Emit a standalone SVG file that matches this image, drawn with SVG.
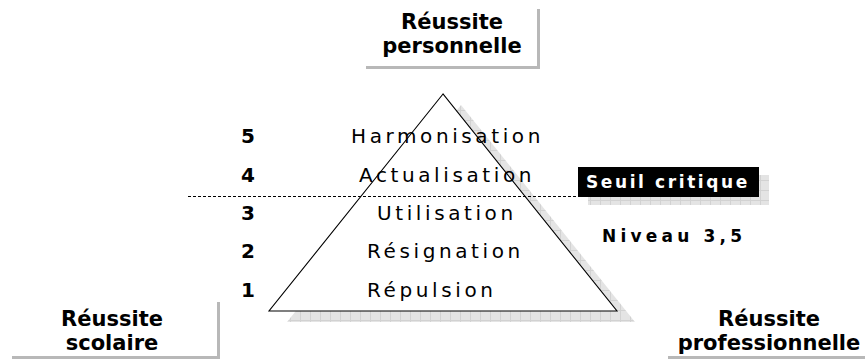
<svg xmlns="http://www.w3.org/2000/svg" width="865" height="360" viewBox="0 0 865 360">
  <style>
    .lbl { font-family: "DejaVu Sans", Verdana, sans-serif; font-weight: bold; font-size: 21px; fill: #000; text-anchor: middle; }
    .num { font-family: "DejaVu Sans", Verdana, sans-serif; font-weight: bold; font-size: 20px; fill: #000; }
    .lvl { font-family: "DejaVu Sans", Verdana, sans-serif; font-size: 20px; fill: #000; letter-spacing: 3.6px; }
    .sh { fill: #b8b8b8; }
    .seuil { font-family: "DejaVu Sans", Verdana, sans-serif; font-weight: bold; font-size: 17px; fill: #fff; letter-spacing: 2.6px; }
    .niv { font-family: "DejaVu Sans", Verdana, sans-serif; font-weight: bold; font-size: 17px; fill: #000; letter-spacing: 4.2px; }
  </style>
  <defs>
    <pattern id="grid" width="10" height="10" patternUnits="userSpaceOnUse">
      <rect width="10" height="10" fill="#e4e4e4"/>
      <path d="M0 0.5H10M0.5 0V10" stroke="#d2d2d2" stroke-width="1" fill="none"/>
    </pattern>
  </defs>
  <rect width="865" height="360" fill="#fff"/>

  <g id="apex-label">
    <rect class="sh" x="537" y="9" width="3" height="60"/>
    <rect class="sh" x="366" y="66" width="174" height="3"/>
    <text class="lbl" x="452" y="29">Réussite</text>
    <text class="lbl" x="452" y="53">personnelle</text>
  </g>

  <g id="left-label">
    <rect class="sh" x="217" y="302" width="3" height="57"/>
    <rect class="sh" x="12" y="356" width="208" height="3"/>
    <text class="lbl" x="112" y="326">Réussite</text>
    <text class="lbl" x="112" y="350">scolaire</text>
  </g>

  <g id="right-label">
    <rect class="sh" x="668" y="356" width="197" height="3"/>
    <text class="lbl" x="769" y="326">Réussite</text>
    <text class="lbl" x="769" y="350">professionnelle</text>
  </g>

  <g id="pyramid">
    <polygon points="461,105 287,322 635,322" fill="url(#grid)"/>
    <polygon points="443,94 269,311 617,311" fill="#fff" stroke="#000" stroke-width="1.1" stroke-linejoin="miter"/>
    <text class="lvl" x="351" y="143">Harmonisation</text>
    <text class="lvl" x="359" y="182">Actualisation</text>
    <text class="lvl" x="377" y="220">Utilisation</text>
    <text class="lvl" x="367" y="258">Résignation</text>
    <text class="lvl" x="367" y="297">Répulsion</text>
  </g>

  <g id="levels">
    <text class="num" x="241" y="143">5</text>
    <text class="num" x="241" y="182">4</text>
    <text class="num" x="241" y="220">3</text>
    <text class="num" x="241" y="258">2</text>
    <text class="num" x="241" y="297">1</text>
  </g>

  <g id="connectors">
    <line x1="188" y1="196.5" x2="578" y2="196.5" stroke="#000" stroke-width="1" stroke-dasharray="3,2"/>
  </g>

  <g id="seuil">
    <rect x="588" y="175" width="181" height="30" fill="url(#grid)"/>
    <rect x="578" y="167" width="181" height="30" fill="#000"/>
    <text class="seuil" x="586" y="188">Seuil critique</text>
  </g>

  <g id="niveau">
    <text class="niv" x="602" y="242">Niveau 3,5</text>
  </g>
</svg>
